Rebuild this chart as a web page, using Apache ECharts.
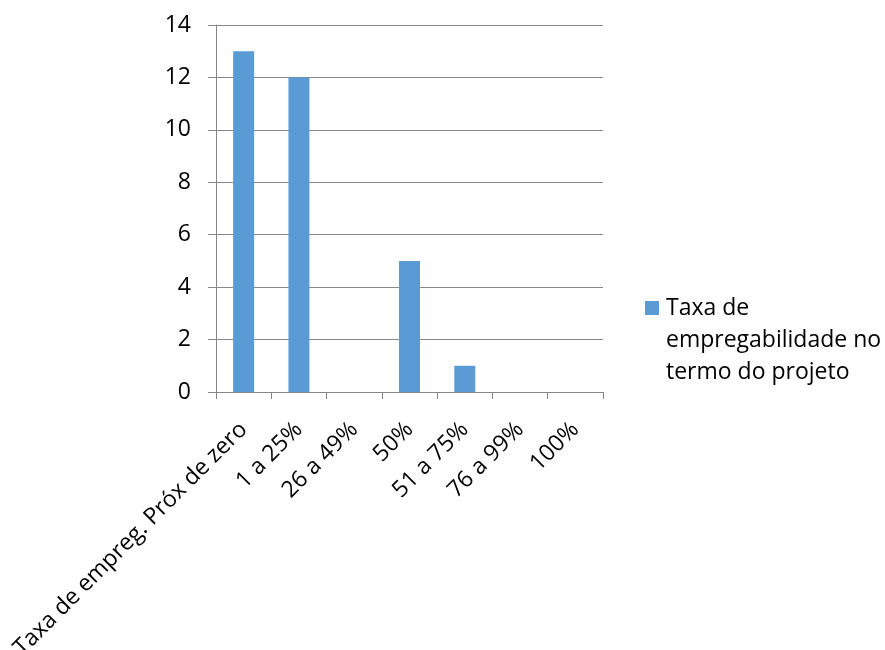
<!DOCTYPE html>
<html lang="pt">
<head>
    <meta charset="UTF-8">
    <title>Taxa de empregabilidade</title>
    <style>
        html, body { margin: 0; padding: 0; background: #fff; }
        #main { width: 885px; height: 650px; }
    </style>
</head>
<body>
<div id="main"></div>
<script src="https://cdn.jsdelivr.net/npm/echarts@6/dist/echarts.min.js"></script>
<script>
    // dados
    const categorias = ['Taxa de empreg. Próx de zero', '1 a 25%', '26 a 49%', '50%', '51 a 75%', '76 a 99%', '100%'];
    const valores = [13, 12, 0, 5, 1, 0, 0];
    const nomeSerie = 'Taxa de empregabilidade no termo do projeto';

    const fonte = '"Open Sans", sans-serif';
    const myChart = echarts.init(document.getElementById('main'));

    const option = {
        animation: false,
        textStyle: { fontFamily: fonte },
        grid: { left: 216, right: 282, top: 25, bottom: 258, containLabel: false, outerBoundsMode: 'none' },
        legend: {
            left: 645,
            top: 292,
            padding: 0,
            orient: 'vertical',
            itemWidth: 14,
            itemHeight: 96,
            itemGap: 0,
            // quadrado alinhado com a primeira linha do texto
            icon: 'path://M0,0L0.01,0L0.01,0.01Z M0,9L14,9L14,23L0,23Z M13.99,95.99L14,96L13.99,96Z',
            formatter: function () { return 'Taxa de\nempregabilidade no\ntermo do projeto'; },
            textStyle: { fontSize: 23, color: '#000', lineHeight: 32, fontFamily: fonte, padding: [0, 0, 0, 2] },
            data: [nomeSerie]
        },
        xAxis: {
            type: 'category',
            data: categorias,
            axisLine: { lineStyle: { color: '#868686', width: 1 } },
            axisTick: { show: true, length: 7, lineStyle: { color: '#868686' } },
            axisLabel: { rotate: 45, interval: 0, fontSize: 23, color: '#000', margin: 34, fontFamily: fonte }
        },
        yAxis: {
            type: 'value',
            min: 0,
            max: 14,
            interval: 2,
            axisLine: { show: true, lineStyle: { color: '#868686' } },
            axisTick: { show: true, length: 8, lineStyle: { color: '#868686' } },
            axisLabel: { fontSize: 23, color: '#000', margin: 25, fontFamily: fonte },
            splitLine: { show: true, lineStyle: { color: '#868686', width: 1 } }
        },
        series: [{
            name: nomeSerie,
            type: 'bar',
            data: valores,
            barWidth: 21,
            itemStyle: { color: '#5B9BD5' }
        }]
    };
    myChart.setOption(option);
</script>
</body>
</html>
